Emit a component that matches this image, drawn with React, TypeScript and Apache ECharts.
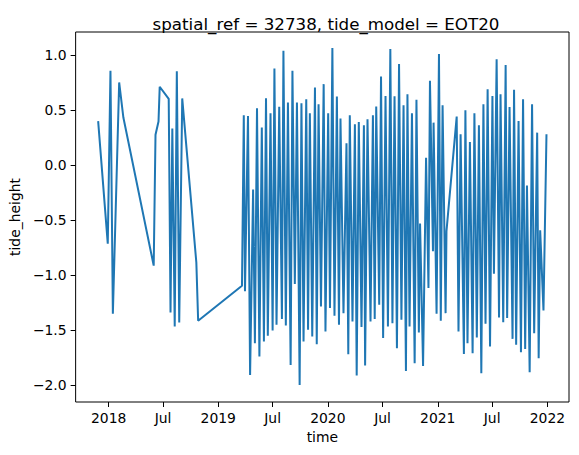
import React, { useEffect, useRef } from "react";
import * as echarts from "echarts";

// Sample times of the modelled tide
const times: string[] = [
  "2017-11-27", "2017-12-29", "2018-01-07", "2018-01-15", "2018-02-05", "2018-02-19",
  "2018-05-31", "2018-06-06", "2018-06-16", "2018-06-20", "2018-07-20", "2018-07-26",
  "2018-08-01", "2018-08-09", "2018-08-16", "2018-08-24", "2018-09-03", "2018-10-20",
  "2018-10-26", "2019-03-21", "2019-03-27", "2019-03-31", "2019-04-10", "2019-04-17",
  "2019-04-27", "2019-05-03", "2019-05-10", "2019-05-18", "2019-05-26", "2019-06-02",
  "2019-06-09", "2019-06-15", "2019-06-24", "2019-07-01", "2019-07-07", "2019-07-14",
  "2019-07-23", "2019-08-01", "2019-08-06", "2019-08-14", "2019-08-21", "2019-08-30",
  "2019-09-05", "2019-09-13", "2019-09-20", "2019-09-29", "2019-10-05", "2019-10-12",
  "2019-10-21", "2019-10-27", "2019-11-02", "2019-11-10", "2019-11-19", "2019-11-25",
  "2019-12-01", "2019-12-09", "2019-12-18", "2019-12-24", "2020-01-02", "2020-01-08",
  "2020-01-16", "2020-01-23", "2020-01-31", "2020-02-07", "2020-02-12", "2020-02-22",
  "2020-03-03", "2020-03-09", "2020-03-14", "2020-03-23", "2020-03-31", "2020-04-06",
  "2020-04-13", "2020-04-22", "2020-04-30", "2020-05-04", "2020-05-12", "2020-05-22",
  "2020-05-30", "2020-06-05", "2020-06-10", "2020-06-20", "2020-06-26", "2020-07-03",
  "2020-07-11", "2020-07-19", "2020-07-27", "2020-08-03", "2020-08-10", "2020-08-18",
  "2020-08-25", "2020-09-02", "2020-09-09", "2020-09-17", "2020-09-22", "2020-09-29",
  "2020-10-07", "2020-10-16", "2020-10-22", "2020-10-30", "2020-11-03", "2020-11-13",
  "2020-11-23", "2020-12-01", "2020-12-06", "2020-12-16", "2020-12-18", "2020-12-28",
  "2021-01-05", "2021-01-11", "2021-01-17", "2021-01-27", "2021-01-30", "2021-03-05",
  "2021-03-11", "2021-03-18", "2021-03-29", "2021-04-03", "2021-04-10", "2021-04-18",
  "2021-04-27", "2021-05-03", "2021-05-11", "2021-05-18", "2021-05-26", "2021-06-02",
  "2021-06-09", "2021-06-16", "2021-06-24", "2021-07-02", "2021-07-07", "2021-07-16",
  "2021-07-24", "2021-07-29", "2021-08-07", "2021-08-15", "2021-08-20", "2021-08-28",
  "2021-09-07", "2021-09-12", "2021-09-19", "2021-09-27", "2021-10-05", "2021-10-12",
  "2021-10-19", "2021-10-25", "2021-11-03", "2021-11-11", "2021-11-18", "2021-11-28",
  "2021-12-03", "2021-12-08", "2021-12-19", "2021-12-29",
];

// Tide height (m) at each sample time
const tideHeight: number[] = [
  0.40, -0.714, 0.857, -1.352, 0.751, 0.432,
  -0.914, 0.276, 0.396, 0.712, 0.602, -1.340,
  0.333, -1.468, 0.853, -1.431, 0.606, -0.887,
  -1.416, -1.097, 0.453, -1.148, 0.447, -1.908,
  -0.222, -1.619, 0.517, -1.741, 0.341, -1.604,
  0.608, -1.552, 0.471, -1.504, 0.879, -1.452,
  0.530, -1.400, 1.039, -1.458, 0.569, -1.817,
  0.857, -1.081, 0.569, -1.999, 0.562, -1.604,
  0.599, -1.498, 0.471, -1.559, 0.706, -1.628,
  0.553, -1.285, 0.736, -1.513, 0.471, -1.300,
  1.064, -1.370, 0.623, -1.452, 0.423, -1.346,
  0.198, -1.720, 0.453, -1.422, 0.371, -1.914,
  0.392, -1.473, 0.362, -1.823, 0.417, -1.422,
  0.453, -1.400, 0.532, -1.270, 0.806, -1.573,
  0.629, -1.468, 1.055, -1.437, 0.626, -1.665,
  0.918, -1.407, 0.544, -1.871, 0.644, -1.468,
  0.471, -1.801, 0.593, -1.522, -0.531, -1.826,
  0.067, -1.118, 0.766, -0.784, 0.386, -1.352,
  1.009, -1.416, 0.544, -1.346, -0.600, 0.441,
  -1.513, 0.280, -1.717, 0.499, -1.619, 0.210,
  -1.710, 0.471, -1.568, 0.362, -1.893, 0.553,
  -1.443, 0.690, -1.650, 0.629, -0.987, 0.963,
  -1.386, 0.644, -1.428, 0.909, -1.391, 0.529,
  -1.580, 0.684, -1.634, 0.401, -1.701, 0.599,
  -1.671, -0.185, -1.883, 0.553, -1.528, 0.295,
  -1.756, -0.593, -1.322, 0.280,
];

// Axis ticks
const xTickDates: string[] = [
  "2018-01-01", "2018-07-01", "2019-01-01", "2019-07-01", "2020-01-01",
  "2020-07-01", "2021-01-01", "2021-07-01", "2022-01-01",
];
const yTicks: number[] = [-2.0, -1.5, -1.0, -0.5, 0.0, 0.5, 1.0];

const FONT = "DejaVu Sans";
const ts = (s: string) => Date.parse(s + "T00:00:00Z");

export default function App() {
  const ref = useRef<HTMLDivElement>(null);

  useEffect(() => {
    document.body.style.margin = "0";
    if (!ref.current) return;
    const chart = echarts.init(ref.current, undefined, { renderer: "svg" });

    const xTickValues = xTickDates.map(ts);
    const data = times.map((t, i) => [ts(t), tideHeight[i]]);

    chart.setOption({
      animation: false,
      backgroundColor: "#ffffff",
      title: {
        text: "spatial_ref = 32738, tide_model = EOT20",
        left: 321,
        top: 10,
        textAlign: "center",
        textStyle: { fontFamily: FONT, fontSize: 16.7, fontWeight: "normal", color: "#000" },
      },
      grid: {
        left: 73,
        right: 10,
        top: 32,
        bottom: 53,
        show: true,
        borderColor: "#000",
        borderWidth: 1,
        backgroundColor: "transparent",
      },
      xAxis: {
        type: "value",
        scale: true,
        position: "bottom",
        min: ts("2017-09-13"),
        max: ts("2022-03-14"),
        name: "time",
        nameLocation: "middle",
        nameGap: 28,
        nameTextStyle: { fontFamily: FONT, fontSize: 13.9, color: "#000" },
        axisLine: { show: false, onZero: false },
        axisTick: {
          show: true,
          length: 5,
          customValues: xTickValues,
          lineStyle: { color: "#000", width: 1 },
        },
        axisLabel: {
          customValues: xTickValues,
          margin: 9,
          fontFamily: FONT,
          fontSize: 13.9,
          color: "#000",
          formatter: (v: number) => {
            const d = new Date(v);
            return d.getUTCMonth() === 0 ? String(d.getUTCFullYear()) : "Jul";
          },
        },
        splitLine: { show: false },
      },
      yAxis: {
        type: "value",
        position: "left",
        min: -2.154,
        max: 1.21,
        name: "tide_height",
        nameLocation: "middle",
        nameRotate: 90,
        nameGap: 48,
        nameTextStyle: { fontFamily: FONT, fontSize: 13.9, color: "#000" },
        axisLine: { show: false, onZero: false },
        axisTick: {
          show: true,
          length: 5,
          customValues: yTicks,
          lineStyle: { color: "#000", width: 1 },
        },
        axisLabel: {
          customValues: yTicks,
          margin: 9,
          fontFamily: FONT,
          fontSize: 13.9,
          color: "#000",
          formatter: (v: number) => v.toFixed(1).replace("-", "\u2212"),
        },
        splitLine: { show: false },
      },
      series: [
        {
          type: "line",
          data,
          showSymbol: false,
          lineStyle: { color: "#1f77b4", width: 2 },
          itemStyle: { color: "#1f77b4" },
        },
      ],
    });

    return () => chart.dispose();
  }, []);

  return <div ref={ref} style={{ width: 579, height: 455 }} />;
}
